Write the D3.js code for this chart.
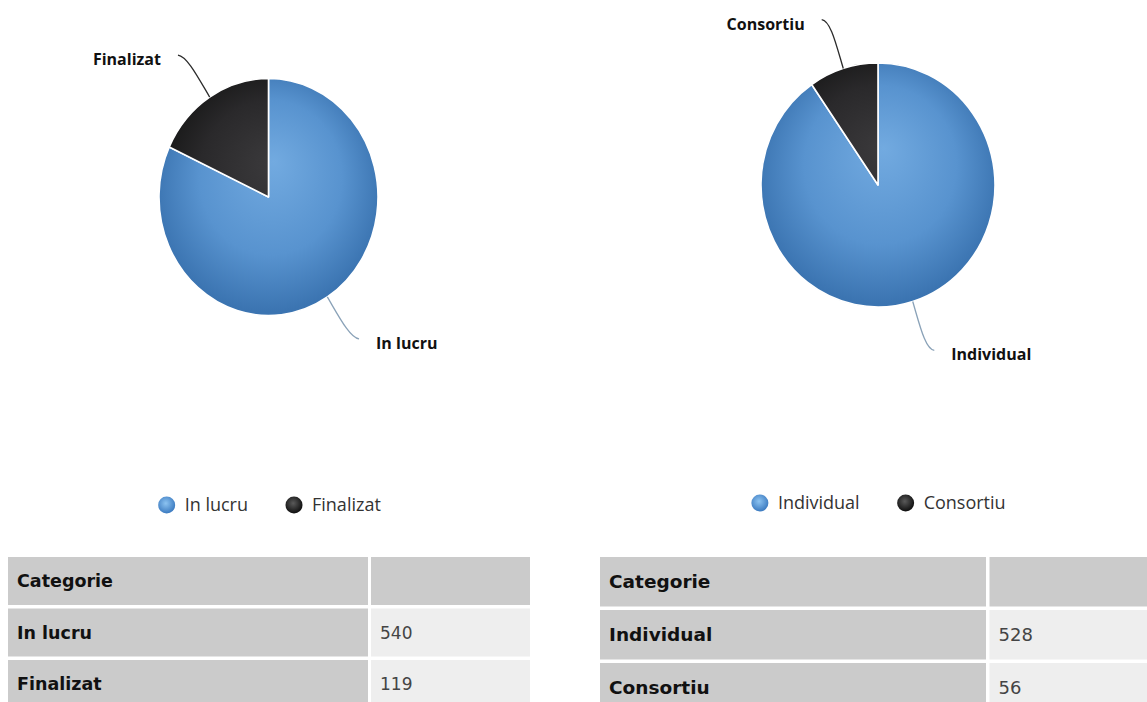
<!DOCTYPE html>
<html>
<head>
<meta charset="utf-8">
<script src="https://cdn.jsdelivr.net/npm/d3@7/dist/d3.min.js"></script>
<style>
  html, body { margin: 0; padding: 0; background: #ffffff; }
  svg { display: block; }
</style>
</head>
<body>
<svg id="chart" width="1147" height="702"></svg>
<script>
// ---------------- DATA ----------------
const pie1Categories = ["In lucru", "Finalizat"];
const pie1Values = [540, 119];
const pie2Categories = ["Individual", "Consortiu"];
const pie2Values = [528, 56];
const tableHeader = ["Categorie", ""];

// ---------------- LAYOUT / STYLE ----------------
const svg = d3.select("#chart");

const charts = [
  { id: "p1", cats: pie1Categories, vals: pie1Values, cx: 268.5, cy: 197, rx: 109.5, ry: 118.5,
    legendCx: 269.5, legendY: 511,
    table: { x: 8, col1: 360, col2: 159, gap: 3, y: 557, rowH: 48, rowGap: 3.5, fs: 17.5, vfs: 17, padL: 9 } },
  { id: "p2", cats: pie2Categories, vals: pie2Values, cx: 878, cy: 185, rx: 117, ry: 122,
    legendCx: 878.5, legendY: 509,
    table: { x: 600, col1: 386, col2: 175, gap: 3.5, y: 557, rowH: 49.5, rowGap: 3.5, fs: 18.5, vfs: 18, padL: 9 } }
];

const sliceFill = [
  { inner: "#72aae0", mid: "#5893cf", outer: "#3b74b1" },
  { inner: "#3b3a3c", mid: "#2a292b", outer: "#171717" }
];
const leaderColor = ["#8aa2b8", "#2b2b2b"];
const legendFill = [
  { inner: "#8cc3f1", outer: "#3b7ac0" },
  { inner: "#5a5a5a", outer: "#0e0e0e" }
];

const defs = svg.append("defs");
const R = 100;

charts.forEach((c) => {
  c.vals.forEach((v, i) => {
    const g = defs.append("radialGradient")
      .attr("id", `${c.id}-g${i}`)
      .attr("gradientUnits", "userSpaceOnUse")
      .attr("cx", 0).attr("cy", -8).attr("r", R * 1.05)
      .attr("fx", 5).attr("fy", -30);
    g.append("stop").attr("offset", "0%").attr("stop-color", sliceFill[i].inner);
    g.append("stop").attr("offset", "62%").attr("stop-color", sliceFill[i].mid);
    g.append("stop").attr("offset", "100%").attr("stop-color", sliceFill[i].outer);

    const lg = defs.append("radialGradient")
      .attr("id", `${c.id}-lg${i}`)
      .attr("cx", "45%").attr("cy", "40%").attr("r", "60%");
    lg.append("stop").attr("offset", "0%").attr("stop-color", legendFill[i].inner);
    lg.append("stop").attr("offset", "100%").attr("stop-color", legendFill[i].outer);
  });

  const data = c.cats.map((k, i) => ({ key: k, value: c.vals[i], idx: i }));
  const pie = d3.pie().sort(null).value(d => d.value);
  const arcs = pie(data);
  const arc = d3.arc().innerRadius(0).outerRadius(R);

  const g = svg.append("g")
    .attr("transform", `translate(${c.cx},${c.cy}) scale(${c.rx / R},${c.ry / R})`);

  g.selectAll("path.slice").data(arcs).enter().append("path")
    .attr("class", "slice")
    .attr("d", arc)
    .attr("fill", d => `url(#${c.id}-g${d.data.idx})`)
    .attr("stroke", "#ffffff")
    .attr("stroke-width", 1.6)
    .attr("vector-effect", "non-scaling-stroke")
    .attr("stroke-linejoin", "round");

  const pt = (a, f) => [c.cx + Math.sin(a) * f * c.rx, c.cy - Math.cos(a) * f * c.ry];

  const lab = svg.append("g");
  arcs.forEach(d => {
    const mid = (d.startAngle + d.endAngle) / 2;
    const side = Math.sin(mid) < 0 ? -1 : 1;
    const p0 = pt(mid, 1.0);
    const p1 = pt(mid, 1.2);
    const q = pt(mid, 1.42);
    const p3 = [q[0] + side * 7, q[1]];
    const p2 = [p3[0] - side * 9, p3[1] + (p3[1] < c.cy ? 1 : -1)];
    lab.append("path")
      .attr("d", `M${p0[0]},${p0[1]} C${p1[0]},${p1[1]} ${p2[0]},${p2[1]} ${p3[0]},${p3[1]}`)
      .attr("fill", "none")
      .attr("stroke", leaderColor[d.data.idx])
      .attr("stroke-width", 1.3);
    lab.append("text")
      .attr("x", p3[0] + side * 17)
      .attr("y", p3[1] + 10)
      .attr("text-anchor", side < 0 ? "end" : "start")
      .attr("font-family", "'Open Sans', sans-serif")
      .attr("font-weight", 700)
      .attr("font-size", 16)
      .attr("fill", "#111")
      .text(d.data.key);
  });

  // legend
  const leg = svg.append("g");
  const items = data.map(d => {
    const t = leg.append("text")
      .attr("font-family", "'Open Sans', sans-serif")
      .attr("font-size", 18)
      .attr("font-weight", 500)
      .attr("fill", "#333")
      .attr("y", c.legendY)
      .text(d.key);
    return { d, t, w: t.node().getComputedTextLength() };
  });
  const cr = 8.5, toText = 18, toNext = 46;
  let total = 0;
  items.forEach((it, i) => { total += (i === 0 ? cr : toNext) + toText + it.w; });
  let x = c.legendCx - total / 2 + cr;
  items.forEach((it, i) => {
    if (i > 0) x += toNext;
    leg.append("circle")
      .attr("cx", x).attr("cy", c.legendY - 6).attr("r", cr)
      .attr("fill", `url(#${c.id}-lg${it.d.idx})`);
    it.t.attr("x", x + toText);
    x += toText + it.w;
  });

  // table
  const T = c.table;
  const rows = [tableHeader].concat(data.map(d => [d.key, String(d.value)]));
  const tg = svg.append("g");
  rows.forEach((r, ri) => {
    const y = T.y + ri * (T.rowH + T.rowGap);
    tg.append("rect").attr("x", T.x).attr("y", y).attr("width", T.col1).attr("height", T.rowH)
      .attr("fill", "#cbcbcb");
    tg.append("rect").attr("x", T.x + T.col1 + T.gap).attr("y", y).attr("width", T.col2).attr("height", T.rowH)
      .attr("fill", ri === 0 ? "#cbcbcb" : "#eeeeee");
    tg.append("text")
      .attr("x", T.x + T.padL).attr("y", y + T.rowH / 2 + 6)
      .attr("font-family", "'DejaVu Sans', sans-serif")
      .attr("font-weight", 700)
      .attr("font-size", T.fs)
      .attr("fill", "#111")
      .text(r[0]);
    tg.append("text")
      .attr("x", T.x + T.col1 + T.gap + T.padL).attr("y", y + T.rowH / 2 + 6)
      .attr("font-family", "'DejaVu Sans', sans-serif")
      .attr("font-size", T.vfs)
      .attr("fill", "#444")
      .text(r[1]);
  });
});
</script>
</body>
</html>
